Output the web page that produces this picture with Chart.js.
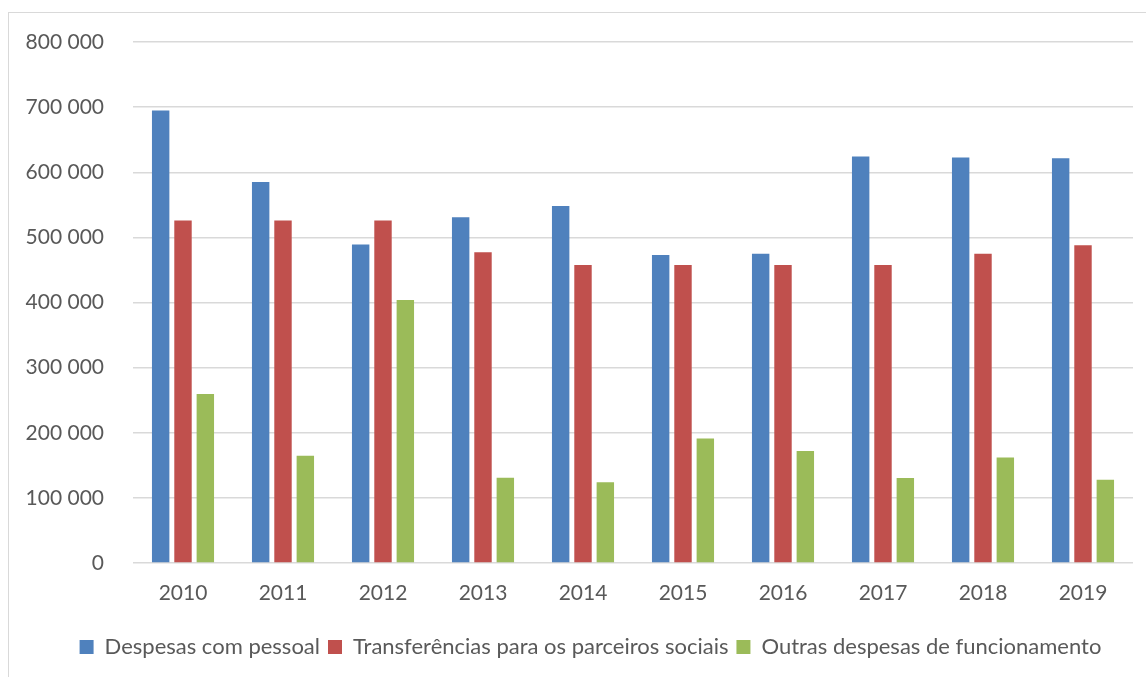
<!DOCTYPE html>
<html>
<head>
<meta charset="utf-8">
<script src="https://cdn.jsdelivr.net/npm/chart.js@4.4.1/dist/chart.umd.min.js"></script>
<style>
  html, body { margin: 0; padding: 0; background: #fff; }
  #wrap { position: relative; width: 1146px; height: 677px; overflow: hidden; }
  #frame { position: absolute; left: 8px; top: 12px; width: 1200px; height: 700px; border: 1.5px solid #d9d9d9; }
  canvas { position: absolute; left: 0; top: 0; }
</style>
</head>
<body>
<div id="wrap">
  <div id="frame"></div>
  <canvas id="chart" width="1146" height="677"></canvas>
</div>
<script>
const years = ['2010', '2011', '2012', '2013', '2014', '2015', '2016', '2017', '2018', '2019']
const pessoal = [695000, 585000, 489000, 531000, 548000, 473000, 475000, 624000, 622500, 621500]
const transferencias = [526000, 526000, 526000, 477000, 457500, 457500, 457500, 457500, 475000, 488000]
const outras = [259500, 164500, 404000, 131000, 124000, 191000, 172000, 130500, 162000, 128000]

const textColor = '#595959'
const gridColor = '#d9d9d9'
const font = { family: 'Lato', size: 21 }

const fmt = v => String(v).replace(/\B(?=(\d{3})+(?!\d))/g, ' ')

// legend sits a bit right of centre in the original
const legendShift = {
  id: 'legendShift',
  afterLayout(chart) {
    chart.legend.left += 24
    chart.legend.right += 24
  }
}

const ctx = document.getElementById('chart').getContext('2d')
new Chart(ctx, {
  type: 'bar',
  data: {
    labels: years,
    datasets: [
      { label: 'Despesas com pessoal', data: pessoal, backgroundColor: '#4f81bd' },
      { label: 'Transferências para os parceiros sociais', data: transferencias, backgroundColor: '#c0504d' },
      { label: 'Outras despesas de funcionamento', data: outras, backgroundColor: '#9bbb59' },
    ]
  },
  options: {
    responsive: false,
    animation: false,
    categoryPercentage: 0.67,
    barPercentage: 0.78,
    layout: { padding: { left: 0, right: 13, top: 42, bottom: 9 } },
    scales: {
      x: {
        grid: { display: false },
        border: { display: false },
        ticks: { color: textColor, font: font, padding: 10 },
        afterFit: scale => { scale.height = 65 },
      },
      y: {
        min: 0,
        max: 800000,
        grid: { color: gridColor, lineWidth: 1.5, drawTicks: false },
        border: { display: false },
        ticks: { color: textColor, font: font, padding: 29, stepSize: 100000, callback: fmt },
        afterFit: scale => { scale.width = 133 },
      }
    },
    plugins: {
      legend: {
        position: 'bottom',
        labels: { color: textColor, font: { family: 'Lato', size: 22 }, boxWidth: 14, boxHeight: 14, padding: 8 }
      },
      tooltip: { enabled: false }
    }
  },
  plugins: [legendShift]
})
</script>
</body>
</html>
